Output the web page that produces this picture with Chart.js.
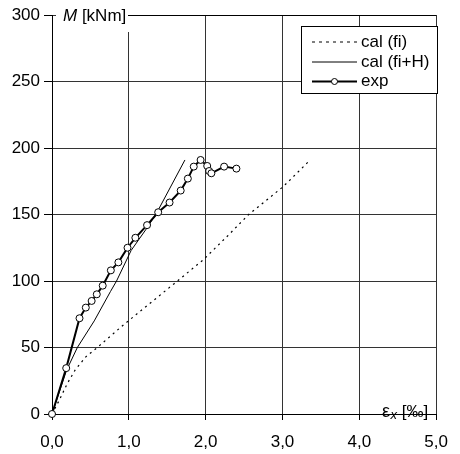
<!DOCTYPE html>
<html><head><meta charset="utf-8">
<script src="https://cdn.jsdelivr.net/npm/chart.js@4/dist/chart.umd.min.js"></script>
<style>html,body{margin:0;padding:0;background:#fff}#wrap{width:460px;height:454px;position:relative}canvas{display:block}</style>
</head><body><div id="wrap"><canvas id="c" width="460" height="454" style="width:460px;height:454px"></canvas></div>
<script>
const seriesNames = ['cal (fi)', 'cal (fi+H)', 'exp'];
const strainFi  = [0, 0.10, 0.20, 0.30, 0.44, 0.59, 0.93, 1.59, 1.97, 2.27, 2.56, 3.01, 3.36];
const momentFi  = [0, 11,   23,   33,   43,   50,   67,   98,   116,  133,  150,  171,  191];
const strainFiH = [0, 0.19, 0.33, 0.55, 0.76, 0.84, 1.03, 1.25, 1.37, 1.73];
const momentFiH = [0, 33,   50,   70,   92,   100,  123,  141,  152,  191];
const strainExp = [0, 0.185, 0.358, 0.44, 0.516, 0.583, 0.66, 0.766, 0.864, 0.983, 1.085, 1.237, 1.382, 1.53, 1.675, 1.768, 1.845, 1.934, 2.02, 2.045, 2.074, 2.24, 2.40];
const momentExp = [0, 34.5,  72,    80,   85,    90,    96.5, 108,   114,   125,   132.5, 142,   151.7, 159,  168,   177,   186,   191,   186.5, 182.7, 181,   186,  184.5];
const xTicks = [0, 1, 2, 3, 4, 5];
const yTicks = [0, 50, 100, 150, 200, 250, 300];
const yTitleItalic = 'M';
const yTitleRest = ' [kNm]';
const xTitleMain = 'ε';
const xTitleSub = 'x';
const xTitleRest = ' [‰]';

const FONT = "'Liberation Sans', Arial, Helvetica, sans-serif";
const pts = (xs, ys) => xs.map((x, i) => ({x: x, y: ys[i]}));

const overlay = {
  id: 'overlay',
  afterDraw(chart) {
    const ctx = chart.ctx, a = chart.chartArea;
    ctx.save();
    // y-axis title box
    ctx.fillStyle = '#fff';
    ctx.fillRect(a.left + 4, 0, 82, 32);
    ctx.strokeStyle = '#000'; ctx.lineWidth = 1;
    ctx.beginPath(); ctx.moveTo(128, 15.5); ctx.lineTo(a.right, 15.5); ctx.stroke();
    ctx.fillStyle = '#000';
    ctx.textBaseline = 'alphabetic'; ctx.textAlign = 'left';
    ctx.font = 'italic 17px ' + FONT;
    ctx.fillText(yTitleItalic, 63, 21);
    const mw = ctx.measureText(yTitleItalic).width;
    ctx.font = '17px ' + FONT;
    ctx.fillText(yTitleRest, 63 + mw, 21);
    // x-axis title box
    ctx.fillStyle = '#fff';
    ctx.fillRect(376, 398, 60, 15.5);
    ctx.fillRect(376, 415, 60, 8);
    ctx.fillStyle = '#000';
    ctx.font = '18px ' + FONT;
    ctx.fillText(xTitleMain, 382, 417);
    let xx = 382 + ctx.measureText(xTitleMain).width + 0.5;
    ctx.font = 'italic 13px ' + FONT;
    ctx.fillText(xTitleSub, xx, 419);
    xx += ctx.measureText(xTitleSub).width;
    ctx.font = '17px ' + FONT;
    ctx.fillText(xTitleRest, xx, 417);
    // legend
    const lx = 301.5, ly = 26.5, lw = 136, lh = 67;
    ctx.fillStyle = '#fff'; ctx.fillRect(lx, ly, lw, lh);
    ctx.strokeStyle = '#000'; ctx.lineWidth = 1; ctx.strokeRect(lx, ly, lw, lh);
    const rows = [42, 62, 81.5];
    chart.data.datasets.forEach((ds, i) => {
      const y = rows[i];
      ctx.save();
      ctx.strokeStyle = ds.borderColor; ctx.lineWidth = ds.borderWidth;
      ctx.setLineDash(i === 0 ? [3, 4] : []);
      ctx.beginPath(); ctx.moveTo(312, y); ctx.lineTo(357, y); ctx.stroke();
      ctx.restore();
      if (ds.pointRadius > 0) {
        ctx.beginPath(); ctx.arc(334.5, y, 3, 0, Math.PI * 2);
        ctx.fillStyle = '#fff'; ctx.fill();
        ctx.lineWidth = 1; ctx.strokeStyle = '#000'; ctx.stroke();
      }
      ctx.fillStyle = '#000'; ctx.font = '17px ' + FONT;
      ctx.textBaseline = 'middle';
      ctx.fillText(ds.label, 361, y);
    });
    ctx.restore();
  }
};

new Chart(document.getElementById('c'), {
  type: 'scatter',
  data: {
    datasets: [
      {label: seriesNames[0], data: pts(strainFi, momentFi), showLine: true, borderColor: '#000', borderWidth: 1.2,
       borderDash: [2, 4], pointRadius: 0, fill: false, tension: 0, order: 3},
      {label: seriesNames[1], data: pts(strainFiH, momentFiH), showLine: true, borderColor: '#000', borderWidth: 1,
       pointRadius: 0, fill: false, tension: 0, order: 2},
      {label: seriesNames[2], data: pts(strainExp, momentExp), showLine: true, borderColor: '#000', borderWidth: 2,
       pointRadius: 3.5, pointBackgroundColor: '#fff', pointBorderColor: '#000', pointBorderWidth: 1,
       fill: false, tension: 0, clip: false, order: 1}
    ]
  },
  options: {
    responsive: false,
    maintainAspectRatio: false,
    animation: false,
    devicePixelRatio: 1,
    layout: {padding: {top: 15, right: 16, left: 0, bottom: 0}},
    plugins: {legend: {display: false}, tooltip: {enabled: false}},
    scales: {
      x: {
        type: 'linear', min: 0, max: 5,
        afterFit: s => { s.height = 40; },
        afterBuildTicks: s => { s.ticks = xTicks.map(v => ({value: v})); },
        ticks: {color: '#000', font: {family: FONT, size: 17}, padding: 12,
                callback: v => v.toFixed(1).replace('.', ',')},
        grid: {color: '#333', lineWidth: 1, tickLength: 6, tickColor: '#000'},
        border: {color: '#000', width: 1}
      },
      y: {
        type: 'linear', min: 0, max: 300,
        afterFit: s => { s.width = 52; },
        afterBuildTicks: s => { s.ticks = yTicks.map(v => ({value: v})); },
        ticks: {color: '#000', font: {family: FONT, size: 17}, padding: 4},
        grid: {color: '#333', lineWidth: 1, tickLength: 8, tickColor: '#000'},
        border: {color: '#000', width: 1}
      }
    }
  },
  plugins: [overlay]
});
</script></body></html>
